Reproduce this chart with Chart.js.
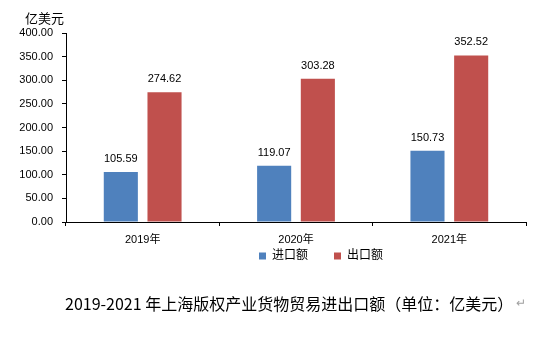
<!DOCTYPE html>
<html>
<head>
<meta charset="utf-8">
<script src="https://cdn.jsdelivr.net/npm/chart.js@4"></script>
<style>
  html, body { margin: 0; padding: 0; background: #fff; }
  #wrap { position: relative; width: 555px; height: 338px; }
  #cv { position: absolute; left: 0; top: 0; }
  #cap {
    position: absolute; left: 0; top: 291px; width: 555px;
    font: 16px "Noto Sans CJK SC", "Liberation Sans", sans-serif;
    color: #000; white-space: nowrap;
  }
  #cap .t { position: absolute; left: 65px; }
  #cap .ret { position: absolute; left: 516px; top: 2px; color: #a0a0a0; font-size: 12px; }
</style>
</head>
<body>
<div id="wrap">
  <canvas id="cv" width="555" height="300"></canvas>
  <div id="cap"><span class="t">2019-2021 年上海版权产业货物贸易进出口额（单位：亿美元）</span><span class="ret">↵</span></div>
</div>
<script>
// 上海版权产业货物贸易进出口额（亿美元）
const years   = ['2019年', '2020年', '2021年'];
const imports = [105.59, 119.07, 150.73];
const exports = [274.62, 303.28, 352.52];
const yTicks  = [0, 50, 100, 150, 200, 250, 300, 350, 400];

const FONT = "'Liberation Sans', 'Noto Sans CJK SC', sans-serif";

// 柱顶数值 + 左上角单位
const labels = {
  id: 'labels',
  afterDatasetsDraw(chart) {
    const ctx = chart.ctx;
    ctx.save();
    ctx.font = '11px ' + FONT;
    ctx.fillStyle = '#000';
    ctx.textAlign = 'center';
    ctx.textBaseline = 'middle';
    chart.data.datasets.forEach((ds, i) => {
      chart.getDatasetMeta(i).data.forEach((bar, j) => {
        ctx.fillText(ds.data[j].toFixed(2), bar.x, bar.y - 13);
      });
    });
    ctx.font = '13px ' + FONT;
    ctx.textAlign = 'left';
    ctx.fillText('亿美元', 25, 19);
    ctx.restore();
  }
};

// 图例挪到横轴标签下方、略偏右
const legendPos = {
  id: 'legendPos',
  afterLayout(chart) {
    const l = chart.legend;
    const p = l.options.labels.padding;
    const w = l.width;
    const lw = l.lineWidths[0];
    const L = (2 * 259 - p - w + lw) / 2;
    l.left = L; l.right = L + w;
    l.top = 256 - p - 6; l.bottom = l.top + l.height;
  }
};

new Chart(document.getElementById('cv'), {
  type: 'bar',
  data: {
    labels: years,
    datasets: [
      { label: '进口额', data: imports, backgroundColor: '#4F81BD' },
      { label: '出口额', data: exports, backgroundColor: '#C0504D' },
    ],
  },
  options: {
    responsive: false,
    animation: false,
    categoryPercentage: 0.57,
    barPercentage: 0.78,
    layout: { padding: { left: 0, right: 29, top: 33, bottom: 8 } },
    plugins: {
      legend: {
        position: 'bottom',
        labels: { boxWidth: 7, boxHeight: 7, padding: 26, color: '#000', font: { size: 12, family: FONT } },
      },
      tooltip: { enabled: false },
    },
    scales: {
      x: {
        grid: { drawOnChartArea: false, tickLength: 4, color: '#000' },
        border: { color: '#000', width: 1 },
        ticks: { color: '#000', padding: 7, font: { size: 11, family: FONT } },
        afterFit: s => { s.height = 22; },
      },
      y: {
        min: 0, max: 400,
        afterBuildTicks: s => { s.ticks = yTicks.map(v => ({ value: v })); },
        grid: { drawOnChartArea: false, tickLength: 4, color: '#000' },
        border: { color: '#000', width: 1 },
        ticks: { color: '#000', padding: 9, font: { size: 11, family: FONT }, callback: v => v.toFixed(2) },
        afterFit: s => { s.width = 66; },
      },
    },
  },
  plugins: [labels, legendPos],
});
</script>
</body>
</html>
